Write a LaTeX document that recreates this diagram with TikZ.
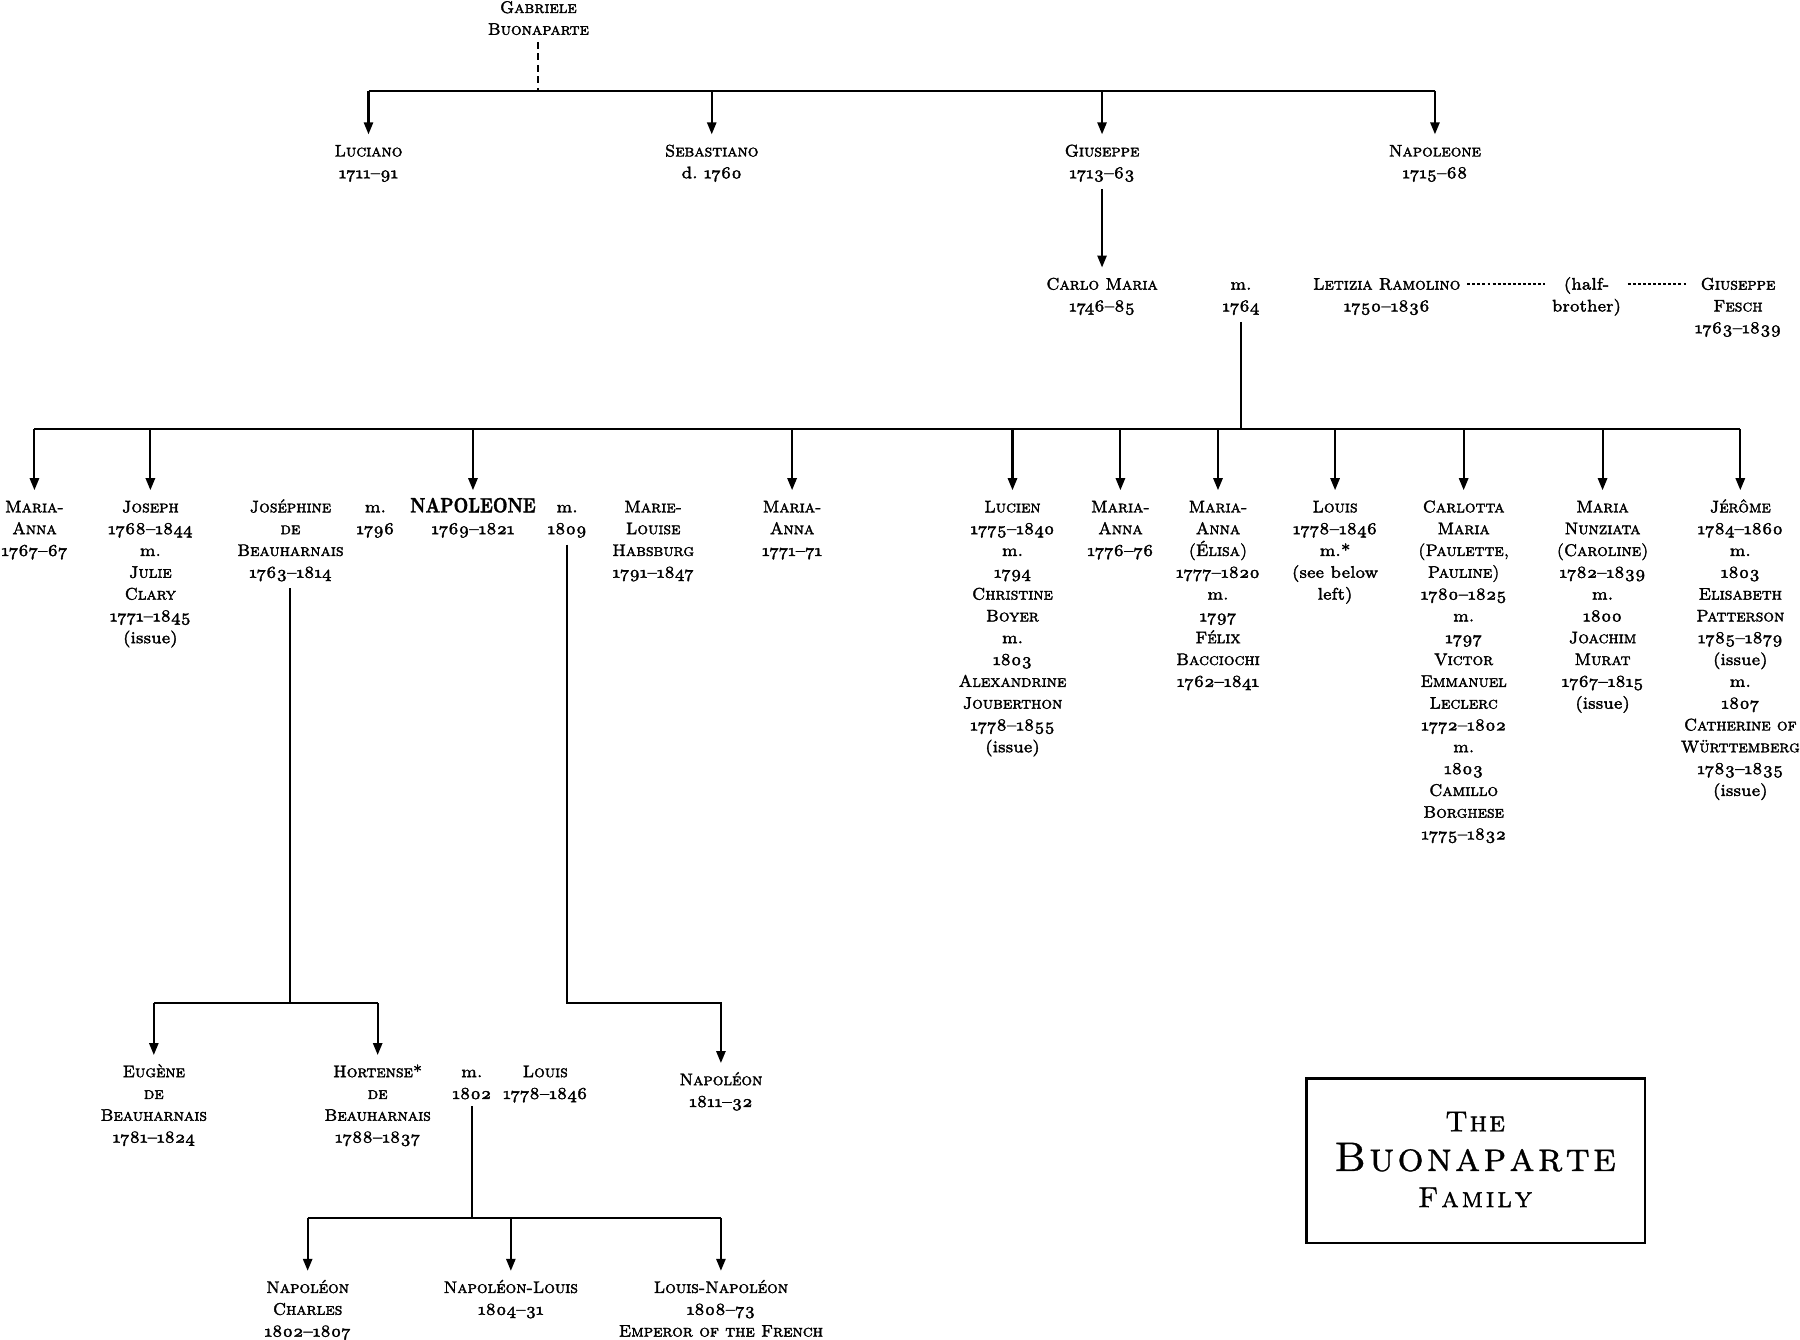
\documentclass[tikz,border=0pt]{standalone}
\usepackage{graphicx}
\usetikzlibrary{arrows.meta,calc}
\font\osf="[lmroman7-regular.otf]:+onum" at 7.3pt
\newcommand\yr[1]{{\osf #1}}
\newcommand\yrs[2]{{\osf #1\textendash #2}}
\newcommand\nm[1]{\textsc{#1}}
\newcommand\heavy{\special{pdf:literal direct 2 Tr 0.15 w}}
\begin{document}
\begin{tikzpicture}[x=0.5pt,y=-0.5pt,
  per/.style={anchor=north,align=center,inner sep=0pt,outer sep=3pt,font=\fontsize{7.3}{9.5}\selectfont\heavy},
  conn/.style={line width=0.9pt},
  arr/.style={conn,-{Triangle[length=5.2pt,width=4pt]}},
  gdash/.style={line width=0.9pt,dash pattern=on 3pt off 2pt},
  fdash/.style={line width=0.6pt,dash pattern=on 1.3pt off 0.9pt},
  ttl/.style={inner sep=0pt}]
\useasboundingbox (0,0) rectangle (1568,1167);
% junction levels
\coordinate (tb) at (0,79);
\coordinate (cb) at (0,374);
\coordinate (jb) at (0,874);
\coordinate (gb) at (0,1061);
% top generation
\node[per] (gab) at (469,-8) {\strut\nm{Gabriele}\\\nm{Buonaparte}};
\node[per] (luc) at (321,117) {\strut\nm{Luciano}\\\yrs{1711}{91}};
\node[per] (seb) at (620,117) {\strut\nm{Sebastiano}\\d.\ \yr{1760}};
\node[per] (giu) at (960,117) {\strut\nm{Giuseppe}\\\yrs{1713}{63}};
\node[per] (nap0) at (1250,117) {\strut\nm{Napoleone}\\\yrs{1715}{68}};
% second generation
\node[per] (carlo) at (960,233) {\strut\nm{Carlo Maria}\\\yrs{1746}{85}};
\node[per] (m1764) at (1081,233) {\strut m.\\\yr{1764}};
\node[per] (let) at (1208,233) {\strut\nm{Letizia Ramolino}\\\yrs{1750}{1836}};
\node[per] (half) at (1382,233) {\strut(half-\\brother)};
\node[per] (fesch) at (1514,233) {\strut\nm{Giuseppe}\\\nm{Fesch}\\\yrs{1763}{1839}};
% children
\node[per] (c1) at (30,427) {\strut\nm{Maria-}\\\nm{Anna}\\\yrs{1767}{67}};
\node[per] (joseph) at (131,427) {\strut\nm{Joseph}\\\yrs{1768}{1844}\\m.\\\nm{Julie}\\\nm{Clary}\\\yrs{1771}{1845}\\(issue)};
\node[per] (jos) at (253,427) {\strut\nm{Joséphine}\\\nm{de}\\\nm{Beauharnais}\\\yrs{1763}{1814}};
\node[per] (m1796) at (327,427) {\strut m.\\\yr{1796}};
\node[per] (napo) at (412,427) {\strut\scalebox{0.8}[1]{\bfseries\fontsize{9}{9.5}\selectfont NAPOLEONE}\\\yrs{1769}{1821}};
\node[per] (m1809) at (494,427) {\strut m.\\\yr{1809}};
\node[per] (ml) at (569,427) {\strut\nm{Marie-}\\\nm{Louise}\\\nm{Habsburg}\\\yrs{1791}{1847}};
\node[per] (c4) at (690,427) {\strut\nm{Maria-}\\\nm{Anna}\\\yrs{1771}{71}};
\node[per] (lucien) at (882,427) {\strut\nm{Lucien}\\\yrs{1775}{1840}\\m.\\\yr{1794}\\\nm{Christine}\\\nm{Boyer}\\m.\\\yr{1803}\\\nm{Alexandrine}\\\nm{Jouberthon}\\\yrs{1778}{1855}\\(issue)};
\node[per] (c6) at (976,427) {\strut\nm{Maria-}\\\nm{Anna}\\\yrs{1776}{76}};
\node[per] (elisa) at (1061,427) {\strut\nm{Maria-}\\\nm{Anna}\\\nm{(Élisa)}\\\yrs{1777}{1820}\\m.\\\yr{1797}\\\nm{Félix}\\\nm{Bacciochi}\\\yrs{1762}{1841}};
\node[per] (louis) at (1163,427) {\strut\nm{Louis}\\\yrs{1778}{1846}\\m.*\\(see below\\left)};
\node[per] (pauline) at (1275,427) {\strut\nm{Carlotta}\\\nm{Maria}\\\nm{(Paulette,}\\\nm{Pauline)}\\\yrs{1780}{1825}\\m.\\\yr{1797}\\\nm{Victor}\\\nm{Emmanuel}\\\nm{Leclerc}\\\yrs{1772}{1802}\\m.\\\yr{1803}\\\nm{Camillo}\\\nm{Borghese}\\\yrs{1775}{1832}};
\node[per] (caroline) at (1396,427) {\strut\nm{Maria}\\\nm{Nunziata}\\\nm{(Caroline)}\\\yrs{1782}{1839}\\m.\\\yr{1800}\\\nm{Joachim}\\\nm{Murat}\\\yrs{1767}{1815}\\(issue)};
\node[per] (jerome) at (1516,427) {\strut\nm{Jérôme}\\\yrs{1784}{1860}\\m.\\\yr{1803}\\\nm{Elisabeth}\\\nm{Patterson}\\\yrs{1785}{1879}\\(issue)\\m.\\\yr{1807}\\\nm{Catherine of}\\\nm{Württemberg}\\\yrs{1783}{1835}\\(issue)};
% lower generations
\node[per] (eug) at (134,919) {\strut\nm{Eugène}\\\nm{de}\\\nm{Beauharnais}\\\yrs{1781}{1824}};
\node[per] (hort) at (329,919) {\strut\nm{Hortense*}\\\nm{de}\\\nm{Beauharnais}\\\yrs{1788}{1837}};
\node[per] (m1802) at (411,919) {\strut m.\\\yr{1802}};
\node[per] (louis2) at (475,919) {\strut\nm{Louis}\\\yrs{1778}{1846}};
\node[per] (nap2) at (628,926) {\strut\nm{Napoléon}\\\yrs{1811}{32}};
\node[per] (nch) at (268,1107) {\strut\nm{Napoléon}\\\nm{Charles}\\\yrs{1802}{1807}};
\node[per] (nlo) at (445,1107) {\strut\nm{Napoléon-Louis}\\\yrs{1804}{31}};
\node[per] (lna) at (628,1107) {\strut\nm{Louis-Napoléon}\\\yrs{1808}{73}\\\nm{Emperor of the French}};
% title
\node[draw,line width=1pt,minimum width=147.5pt,minimum height=71.5pt,inner sep=0pt] (title) at (1285.5,1011) {};
\node[ttl,font=\fontsize{12.5}{14}\selectfont\heavy] (t1) at (1285,977) {\textsc{T\kern0.8pt h\kern0.8pt e}};
\node[ttl,font=\fontsize{18}{20}\selectfont\heavy] (t2) at (1285,1008) {\textsc{B\kern1.3pt u\kern1.3pt o\kern1.3pt n\kern1.3pt a\kern1.3pt p\kern1.3pt a\kern1.3pt r\kern1.3pt t\kern1.3pt e}};
\node[ttl,font=\fontsize{12.5}{14}\selectfont\heavy] (t3) at (1285,1043) {\textsc{F\kern1.2pt a\kern1.2pt m\kern1.2pt i\kern1.2pt l\kern1.2pt y}};
% connectors: top
\draw[gdash] (gab) -- (gab |- tb);
\draw[conn] (luc |- tb) -- (nap0 |- tb);
\foreach \n in {luc,seb,giu,nap0} \draw[arr] (\n |- tb) -- (\n);
\draw[arr] (giu) -- (carlo);
\draw[fdash] ($(let.north east)+(0,14.3)$) -- ($(half.north west)+(0,14.3)$);
\draw[fdash] ($(half.north east)+(0,14.3)$) -- ($(fesch.north west)+(0,14.3)$);
% children
\draw[conn] (m1764) -- (m1764 |- cb);
\draw[conn] (c1 |- cb) -- (jerome |- cb);
\foreach \n in {c1,joseph,napo,c4,lucien,c6,elisa,louis,pauline,caroline,jerome} \draw[arr] (\n |- cb) -- (\n);
% Josephine's children
\draw[conn] (jos) -- (jos |- jb);
\draw[conn] (eug |- jb) -- (hort |- jb);
\draw[arr] (eug |- jb) -- (eug);
\draw[arr] (hort |- jb) -- (hort);
% Marie-Louise
\draw[arr] (m1809) -- (m1809 |- jb) -| (nap2);
% Hortense and Louis
\draw[conn] (m1802) -- (m1802 |- gb);
\draw[conn] (nch |- gb) -- (lna |- gb);
\foreach \n in {nch,nlo,lna} \draw[arr] (\n |- gb) -- (\n);
\end{tikzpicture}
\end{document}
